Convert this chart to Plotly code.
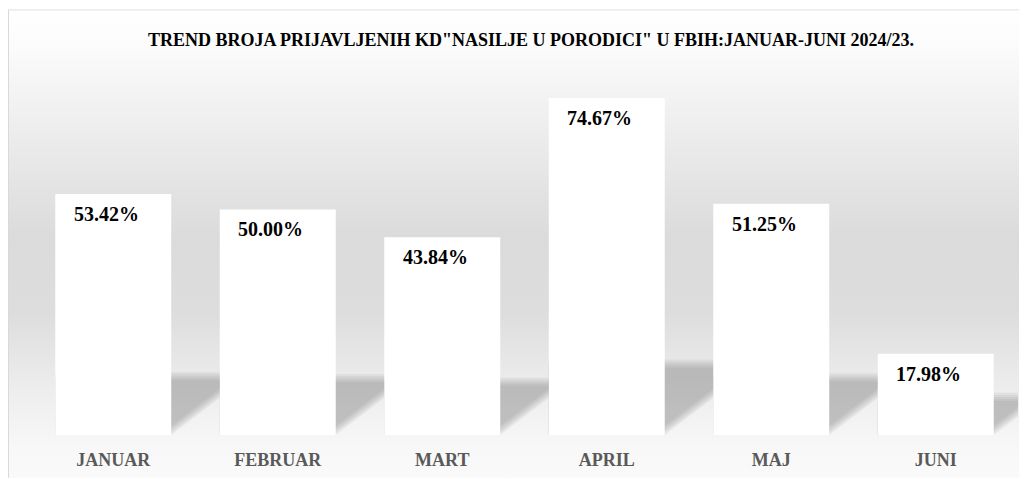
import plotly.graph_objects as go
import base64

categories = ["JANUAR", "FEBRUAR", "MART", "APRIL", "MAJ", "JUNI"]
values = [53.42, 50.00, 43.84, 74.67, 51.25, 17.98]
labels = ["53.42%", "50.00%", "43.84%", "74.67%", "51.25%", "17.98%"]
title_text = 'TREND BROJA PRIJAVLJENIH KD"NASILJE U PORODICI" U FBIH:JANUAR-JUNI 2024/23.'

# page body has an 8px margin; figure sized to fit the 1027x479 window
W, H = 1019, 471
ML, MR, MT, MB = 23, 9, 66, 42
PW, PH = W - ML - MR, H - MT - MB
YMAX = 80
BW = 0.705
FONT = "Liberation Serif, DejaVu Serif, serif"

FW, FH = 1012, 471
svg = f'''<svg xmlns="http://www.w3.org/2000/svg" width="{FW}" height="{FH}" viewBox="0 0 {FW} {FH}" preserveAspectRatio="none">
<defs><linearGradient id="g" x1="0" y1="0" x2="0" y2="1">
<stop offset="0" stop-color="#ffffff"/>
<stop offset="0.08" stop-color="#fbfbfb"/>
<stop offset="0.48" stop-color="#dbdbdb"/>
<stop offset="0.64" stop-color="#dddddd"/>
<stop offset="0.79" stop-color="#ececec"/>
<stop offset="0.93" stop-color="#f8f8f8"/>
<stop offset="1" stop-color="#fafafa"/>
</linearGradient></defs>
<rect x="0.5" y="0.5" width="{FW - 1}" height="{FH + 5}" fill="url(#g)" stroke="#d9d9d9" stroke-width="1"/>
</svg>'''
src = "data:image/svg+xml;base64," + base64.b64encode(svg.encode()).decode()

def px_x(p):
    return (p - ML) / PW

def px_y(p):
    return (MT + PH - p) / PH

fig = go.Figure()
fig.add_trace(go.Bar(
    x=list(range(len(categories))), y=values, width=BW,
    marker=dict(color="#ffffff", line=dict(width=0)),
    hoverinfo="skip",
))

ux = PW / 6.0
uy = PH / YMAX
shapes = []
for i, v in enumerate(values):
    ys = 0.13 * v + 7.0
    dx = 1.3 * ys * uy / ux
    xl, xr = i - BW / 2, i + BW / 2
    for j in range(5):
        top = ys - j * 0.45
        sh = j * 3.0 / ux
        path = (f"M {xl},0 L {xr - sh},0 L {xr - sh + dx * top / ys},{top} "
                f"L {xl},{top} Z")
        shapes.append(dict(type="path", path=path, xref="x", yref="y",
                           fillcolor="rgba(130,130,130,0.11)",
                           line=dict(width=0), layer="below"))

annotations = []
for i, (v, t) in enumerate(zip(values, labels)):
    annotations.append(dict(x=i - 7 / ux, y=v, xref="x", yref="y", text=f"<b>{t}</b>",
                            showarrow=False, yanchor="top", yshift=-7,
                            font=dict(family=FONT, size=20, color="#000000")))

fig.update_layout(
    width=W, height=H,
    margin=dict(l=ML, r=MR, t=MT, b=MB),
    paper_bgcolor="#ffffff", plot_bgcolor="rgba(0,0,0,0)",
    showlegend=False,
    title=dict(text=f"<b>{title_text}</b>", x=523 / W, xref="container",
               xanchor="center", y=1 - 32 / H, yanchor="middle",
               font=dict(family=FONT, size=18, color="#000000")),
    xaxis=dict(range=[-0.5, 5.5], tickvals=list(range(len(categories))),
               ticktext=[f"<b>{c}</b>" for c in categories],
               showgrid=False, zeroline=False, showline=False, ticks="",
               ticklabelstandoff=12,
               tickfont=dict(family=FONT, size=18, color="#595959")),
    yaxis=dict(range=[0, YMAX], visible=False, showgrid=False, zeroline=False),
    images=[dict(source=src, xref="paper", yref="paper",
                 x=px_x(0), y=px_y(1), sizex=FW / PW, sizey=FH / PH,
                 xanchor="left", yanchor="top", sizing="stretch",
                 layer="below")],
    shapes=shapes,
    annotations=annotations,
)

fig.write_html("out.html")
